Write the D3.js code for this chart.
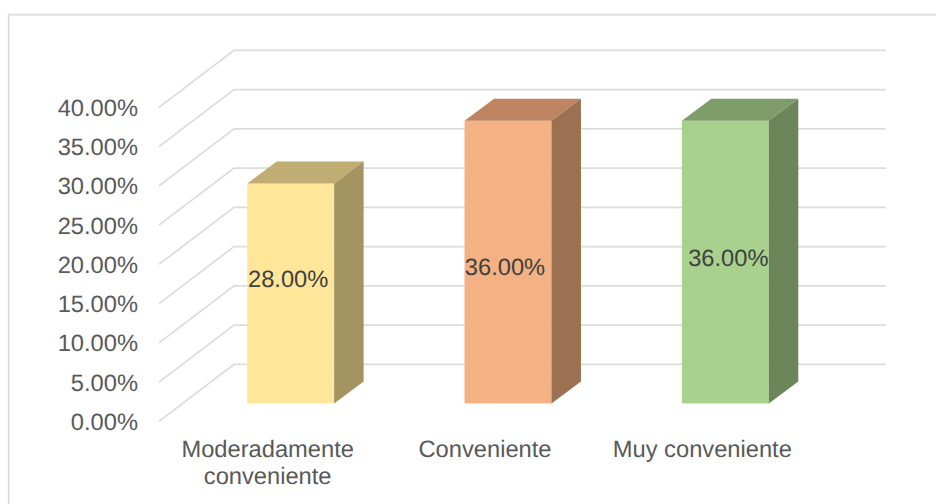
<!DOCTYPE html>
<html>
<head>
<meta charset="utf-8">
<script src="https://cdn.jsdelivr.net/npm/d3@7"></script>
<style>
    html, body { margin: 0; padding: 0; background: #fff; overflow: hidden; }
    svg { display: block; }
    text { font-family: "Liberation Sans", Arial, sans-serif; text-rendering: geometricPrecision; }
</style>
</head>
<body>
<div id="canvas"></div>
<script>
var categories = ['Moderadamente conveniente', 'Conveniente', 'Muy conveniente'];
var values = [28, 36, 36];
var yTicks = [0, 5, 10, 15, 20, 25, 30, 35, 40];
var frontColors = ['#FFE699', '#F4B183', '#A9D18E'];
var topColors = ['#BFAD73', '#BF8562', '#7F9D6B'];
var sideColors = ['#A39462', '#9C7152', '#6C855B'];

var svgWidth = 936;
var svgHeight = 504;
var fontSize = 23.7;
var textColor = '#595959';
var gridColor = '#dcdcdc';

// floor of the 3d box: front edge of the axis to the back wall
var wallDx = 75;
var wallDy = 57;
// bar sits inside the floor
var barShiftX = 23;
var barShiftY = 18;
var barDepthX = 29.5;
var barDepthY = 22;
// data labels were hand moved in the original chart
var labelShiftX = [-2.5, -3, 3];
var labelBaseline = [287, 275, 266];

var svg = d3.select('#canvas')
    .append('svg')
    .attr('width', svgWidth)
    .attr('height', svgHeight);

var x = d3.scaleBand()
    .domain(categories)
    .range([159, 811])
    .paddingInner(0.6)
    .paddingOuter(0.3);

var y = d3.scaleLinear()
    .domain([0, 40])
    .range([421.4, 107.4]);

// chart frame, right and bottom run off the picture
svg.append('path')
    .attr('d', 'M8.7,' + svgHeight + 'V14.7H' + svgWidth)
    .attr('fill', 'none')
    .attr('stroke', gridColor)
    .attr('stroke-width', 1.7);

// gridlines, floor side then back wall
svg.append('g').selectAll('path')
    .data(yTicks)
    .join('path')
    .attr('d', function (d) {
        return 'M' + x.range()[0] + ',' + y(d) +
            'L' + (x.range()[0] + wallDx) + ',' + (y(d) - wallDy) +
            'H' + (x.range()[1] + wallDx);
    })
    .attr('fill', 'none')
    .attr('stroke', gridColor)
    .attr('stroke-width', 1.8);

// y axis labels
var yAxis = svg.append('g')
    .attr('transform', 'translate(138,0)')
    .call(d3.axisLeft(y)
        .tickValues(yTicks)
        .tickSize(0)
        .tickPadding(0)
        .tickFormat(function (d) { return d.toFixed(2) + '%'; }));
yAxis.select('.domain').remove();
yAxis.selectAll('text')
    .attr('font-family', '"Liberation Sans", Arial, sans-serif')
    .attr('font-size', fontSize)
    .attr('fill', textColor)
    .attr('dy', 7.9);

// bars
var bars = svg.append('g').selectAll('g')
    .data(categories)
    .join('g')
    .attr('transform', function (d) {
        return 'translate(' + (x(d) + barShiftX) + ',' + (-barShiftY) + ')';
    });

bars.append('rect')
    .attr('x', 0)
    .attr('y', function (d, i) { return y(values[i]); })
    .attr('width', x.bandwidth())
    .attr('height', function (d, i) { return y(0) - y(values[i]); })
    .attr('fill', function (d, i) { return frontColors[i]; });

bars.append('path')
    .attr('d', function (d, i) {
        var t = y(values[i]);
        var w = x.bandwidth();
        return 'M0,' + t + 'L' + barDepthX + ',' + (t - barDepthY) +
            'H' + (w + barDepthX) + 'L' + w + ',' + t + 'Z';
    })
    .attr('fill', function (d, i) { return topColors[i]; });

bars.append('path')
    .attr('d', function (d, i) {
        var t = y(values[i]);
        var w = x.bandwidth();
        return 'M' + w + ',' + t + 'L' + (w + barDepthX) + ',' + (t - barDepthY) +
            'V' + (y(0) - barDepthY) + 'L' + w + ',' + y(0) + 'Z';
    })
    .attr('fill', function (d, i) { return sideColors[i]; });

// data labels
svg.append('g').selectAll('text')
    .data(categories)
    .join('text')
    .attr('x', function (d, i) { return x(d) + barShiftX + x.bandwidth() / 2 + labelShiftX[i]; })
    .attr('y', function (d, i) { return labelBaseline[i]; })
    .attr('text-anchor', 'middle')
    .attr('font-size', fontSize)
    .attr('fill', '#404040')
    .text(function (d, i) { return values[i].toFixed(2) + '%'; });

// category labels, first one wraps on two lines
var catLines = [['Moderadamente', 'conveniente'], ['Conveniente'], ['Muy conveniente']];
var catLabels = svg.append('g').selectAll('text')
    .data(categories)
    .join('text')
    .attr('text-anchor', 'middle')
    .attr('font-size', fontSize)
    .attr('fill', textColor);

catLabels.selectAll('tspan')
    .data(function (d, i) {
        return catLines[i].map(function (line) { return {line: line, cat: d}; });
    })
    .join('tspan')
    .attr('x', function (d) { return x(d.cat) + x.bandwidth() / 2; })
    .attr('y', function (d, i) { return 456.5 + i * 27.5; })
    .text(function (d) { return d.line; });
</script>
</body>
</html>
